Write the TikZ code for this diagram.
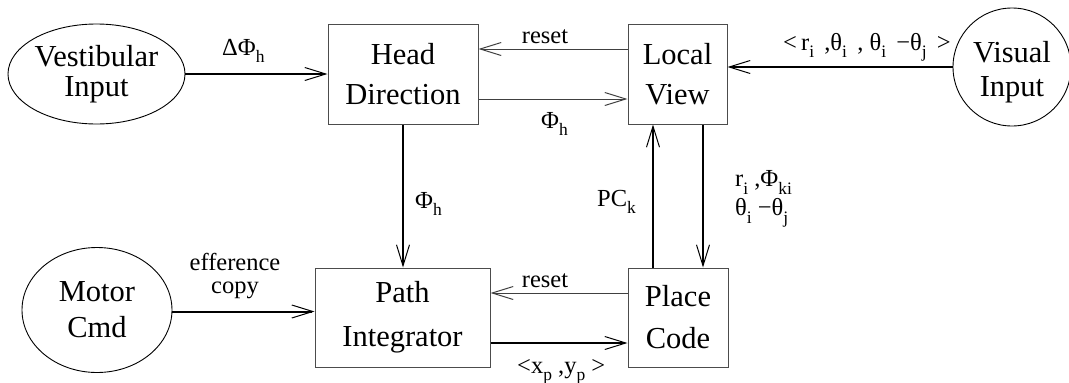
\documentclass[tikz,border=0pt]{standalone}
\usepackage{fontspec}
\setmainfont{Liberation Serif}
\usetikzlibrary{arrows.meta,shapes.geometric}

% lowered, smaller text used for indices
\newcommand\lowidx[1]{\raisebox{-7.5pt}{\fontsize{17.5}{18}\selectfont #1}}

\tikzset{
  module/.style={draw=black!70, line width=1pt, rectangle, inner sep=0pt,
                 align=center, font=\fontsize{30.5}{40}\selectfont},
  source/.style={draw=black, line width=0.9pt, ellipse, inner sep=0pt,
                 align=center, font=\fontsize{30.5}{30}\selectfont},
  flow/.style={line width=2pt, -{Straight Barb[length=21pt,width=13pt,line width=1pt]}},
  thinflow/.style={line width=1pt, draw=black!75, -{Straight Barb[length=21pt,width=13pt,line width=1pt]}},
  lbl/.style={inner sep=0pt, font=\fontsize{24.5}{21}\selectfont},
}

\begin{document}
\begin{tikzpicture}[x=1pt, y=-1pt]
\useasboundingbox (0,0) rectangle (1069,383);

% sensory and motor sources
\node[source, minimum width=177pt, minimum height=100pt] (vest) at (96.5,74) {Vestibular\\Input};
\node[source, minimum width=150pt, minimum height=125pt, font=\fontsize{30.5}{36}\selectfont] (motor) at (97,310) {Motor\\Cmd};
\node[draw=black, line width=0.9pt, circle, minimum size=118pt, inner sep=0pt] (vis) at (1012,67) {};
\node[align=center, inner sep=0pt, font=\fontsize{30.5}{34}\selectfont] (vistext) at (1012,72) {Visual\\Input};

% processing modules
\node[module, minimum width=150pt, minimum height=100pt] (hd) at (403,74) {Head\\Direction};
\node[module, minimum width=99pt, minimum height=100pt] (lv) at (677.5,74) {Local\\View};
\node[module, minimum width=175pt, minimum height=99pt, font=\fontsize{30.5}{44}\selectfont] (pi) at (402.5,317.5) {Path\\Integrator};
\node[module, minimum width=100pt, minimum height=99pt, font=\fontsize{30.5}{42}\selectfont] (pc) at (678,317.5) {Place\\Code};

% connections
\draw[flow] (vest.east) -- (hd.west);
\draw[thinflow] ([yshift=25pt]lv.west) -- ([yshift=25pt]hd.east);
\draw[thinflow] ([yshift=-25pt]hd.east) -- ([yshift=-25pt]lv.west);
\draw[flow] (vis.west) -- (lv.east |- vis.west);
\draw[flow] (hd.south) -- (hd.south |- pi.north);
\draw[flow] ([xshift=-25pt]pc.north) -- ([xshift=-25pt]pc.north |- lv.south);
\draw[flow] ([xshift=25pt]pc.north |- lv.south) -- ([xshift=25pt]pc.north);
\draw[flow] ([yshift=-1.5pt]motor.east) -- ([yshift=-1.5pt]motor.east -| pi.west);
\draw[thinflow] ([yshift=24.5pt]pc.west) -- ([yshift=24.5pt]pi.east);
\draw[flow] ([yshift=-25.5pt]pi.east) -- ([yshift=-25.5pt]pc.west);

% labels
\node[lbl, anchor=base west] (l1) at (222,55) {ΔΦ\lowidx{h}};
\node[lbl, anchor=base] (l2) at (545,43) {reset};
\node[lbl, anchor=base west] (l3) at (541,128) {Φ\lowidx{h}};
\node[lbl, anchor=base west] (l4) at (783,50) {<\,r\lowidx{i}\, ,θ\lowidx{i}\, , θ\lowidx{i}\, −θ\lowidx{j}\, >};
\node[lbl, anchor=base west] (l5) at (415,208) {Φ\lowidx{h}};
\node[lbl, anchor=base west] (l6) at (597,206) {PC\lowidx{k}};
\node[lbl, anchor=west, align=left, font=\fontsize{24.5}{29}\selectfont] (l7) at (735,199) {r\lowidx{i} ,Φ\lowidx{ki}\\θ\lowidx{i} −θ\lowidx{j}};
\node[lbl, align=center, font=\fontsize{24.5}{22.5}\selectfont] (l8) at (235,276) {efference\\copy};
\node[lbl, anchor=base] (l9) at (545,287) {reset};
\node[lbl, anchor=base west] (l10) at (517,373) {<x\lowidx{p} ,y\lowidx{p} >};
\end{tikzpicture}
\end{document}
